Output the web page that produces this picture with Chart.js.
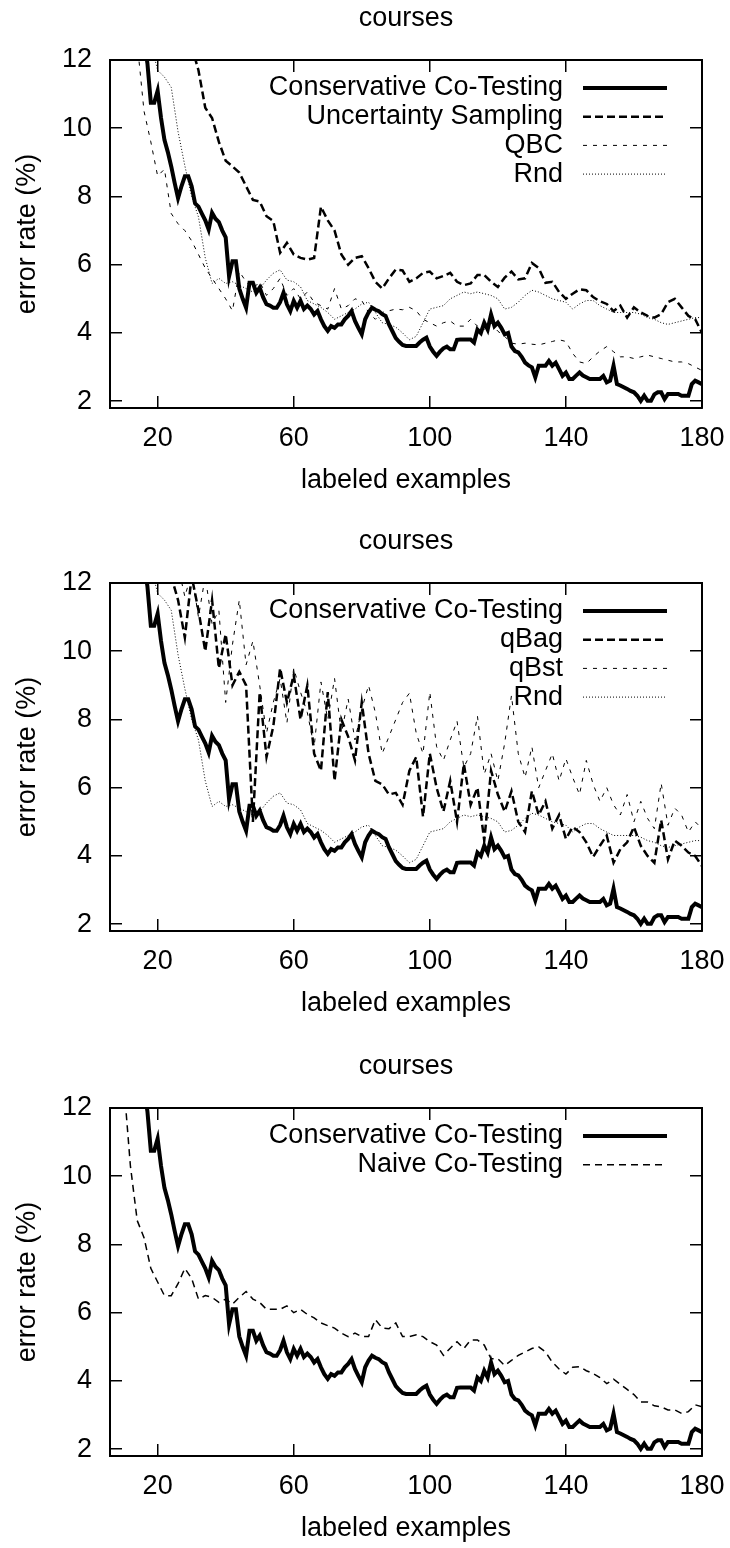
<!DOCTYPE html>
<html>
<head>
<meta charset="utf-8">
<script src="https://cdn.jsdelivr.net/npm/chart.js@4.4.0/dist/chart.umd.min.js"></script>
<style>
  body { margin: 0; background: #fff; }
  .panel { position: absolute; left: 0; width: 730px; height: 500px; }
</style>
</head>
<body>
<div class="panel" style="top:0px"><canvas id="chart1"></canvas></div>
<div class="panel" style="top:523px"><canvas id="chart2"></canvas></div>
<div class="panel" style="top:1048px"><canvas id="chart3"></canvas></div>
<script>
// x positions (number of labeled examples)
const EXAMPLES_FINE = [
  14, 15, 16, 17, 18, 19, 20, 21, 22, 23, 24, 25, 26, 27, 28, 29, 30, 31, 32, 33,
  34, 35, 36, 37, 38, 39, 40, 41, 42, 43, 44, 45, 46, 47, 48, 49, 50, 51, 52, 53,
  54, 55, 56, 57, 58, 59, 60, 61, 62, 63, 64, 65, 66, 67, 68, 69, 70, 71, 72, 73,
  74, 75, 76, 77, 78, 79, 80, 81, 82, 83, 84, 85, 86, 87, 88, 89, 90, 91, 92, 93,
  94, 95, 96, 97, 98, 99, 100, 101, 102, 103, 104, 105, 106, 107, 108, 109, 110, 111, 112, 113,
  114, 115, 116, 117, 118, 119, 120, 121, 122, 123, 124, 125, 126, 127, 128, 129, 130, 131, 132, 133,
  134, 135, 136, 137, 138, 139, 140, 141, 142, 143, 144, 145, 146, 147, 148, 149, 150, 151, 152, 153,
  154, 155, 156, 157, 158, 159, 160, 161, 162, 163, 164, 165, 166, 167, 168, 169, 170, 171, 172, 173,
  174, 175, 176, 177, 178, 179, 180
];
const EXAMPLES = [
  8, 10, 12, 14, 16, 18, 20, 22, 24, 26, 28, 30, 32, 34, 36, 38, 40, 42, 44, 46,
  48, 50, 52, 54, 56, 58, 60, 62, 64, 66, 68, 70, 72, 74, 76, 78, 80, 82, 84, 86,
  88, 90, 92, 94, 96, 98, 100, 102, 104, 106, 108, 110, 112, 114, 116, 118, 120, 122, 124, 126,
  128, 130, 132, 134, 136, 138, 140, 142, 144, 146, 148, 150, 152, 154, 156, 158, 160, 162, 164, 166,
  168, 170, 172, 174, 176, 178, 180
];
const X_TICKS = [20, 60, 100, 140, 180];
const Y_TICKS = [2, 4, 6, 8, 10, 12];

// error rate (%), on EXAMPLES_FINE
const conservative = [
  14.0, 13.3, 12.6, 11.9, 10.75, 10.75, 11.1, 10.3, 9.66, 9.3, 8.88, 8.4, 7.95, 8.3, 8.59, 8.59, 8.3, 7.8, 7.7, 7.5,
  7.3, 7.03, 7.52, 7.35, 7.25, 7.0, 6.8, 5.66, 6.1, 6.1, 5.3, 5.0, 4.74, 5.47, 5.47, 5.18, 5.33, 5.05, 4.84, 4.8,
  4.74, 4.74, 4.9, 5.18, 4.84, 4.64, 4.94, 4.74, 4.94, 4.7, 4.8, 4.7, 4.54, 4.64, 4.4, 4.2, 4.06, 4.2, 4.15, 4.25,
  4.25, 4.4, 4.5, 4.64, 4.35, 4.15, 3.96, 4.4, 4.6, 4.74, 4.68, 4.64, 4.55, 4.5, 4.25, 4.05, 3.85, 3.74, 3.65, 3.62,
  3.62, 3.62, 3.62, 3.72, 3.8, 3.86, 3.6, 3.45, 3.33, 3.45, 3.55, 3.6, 3.52, 3.52, 3.8, 3.81, 3.81, 3.81, 3.81, 3.72,
  4.1, 4.0, 4.3, 4.1, 4.54, 4.2, 4.3, 4.15, 3.96, 4.0, 3.6, 3.47, 3.43, 3.3, 3.13, 3.05, 2.99, 2.7, 3.04, 3.04,
  3.04, 3.18, 3.04, 3.13, 2.94, 2.74, 2.84, 2.65, 2.65, 2.75, 2.84, 2.75, 2.7, 2.65, 2.65, 2.65, 2.65, 2.74, 2.55, 2.6,
  3.04, 2.5, 2.46, 2.41, 2.36, 2.3, 2.26, 2.16, 2.01, 2.16, 2.01, 2.01, 2.2, 2.26, 2.26, 2.06, 2.21, 2.21, 2.21, 2.21,
  2.16, 2.16, 2.16, 2.5, 2.6, 2.55, 2.5
];

// error rate (%), on EXAMPLES
const uncertainty = [
  16, 15.5, 15, 14.6, 14.2, 13.8, 13.5, 13.2, 13, 12.8, 12.6, 12.4, 11.7, 10.6, 10.3, 9.6, 9.05, 8.88, 8.7, 8.3,
  7.9, 7.85, 7.42, 7.28, 6.35, 6.64, 6.3, 6.2, 6.15, 6.2, 7.7, 7.3, 7.0, 6.3, 6.0, 6.2, 6.25, 5.9, 5.5, 5.3,
  5.6, 5.86, 5.83, 5.5, 5.6, 5.76, 5.8, 5.6, 5.67, 5.76, 5.5, 5.4, 5.45, 5.7, 5.7, 5.5, 5.35, 5.62, 5.8, 5.57,
  5.6, 6.05, 5.9, 5.47, 5.5, 5.2, 5.0, 5.15, 5.28, 5.25, 5.05, 4.93, 4.85, 4.64, 4.8, 4.45, 4.75, 4.6, 4.5, 4.45,
  4.55, 4.9, 5.0, 4.75, 4.5, 4.4, 4.0
];
const qbc = [
  16, 15, 14, 12.5, 10.5, 9.6, 8.6, 8.8, 7.5, 7.2, 7.0, 6.7, 6.3, 5.9, 5.6, 5.3, 5.0, 4.65, 5.8, 5.5,
  5.3, 5.5, 5.1, 5.3, 5.6, 5.1, 5.3, 5.0, 5.2, 4.9, 4.8, 4.7, 5.3, 4.7, 4.8, 5.0, 4.95, 4.6, 4.4, 4.6,
  4.65, 4.7, 4.68, 4.75, 4.65, 4.4, 4.3, 4.2, 4.3, 4.35, 4.2, 4.2, 4.4, 4.2, 4.1, 4.3, 4.05, 3.9, 3.7, 3.67,
  3.7, 3.67, 3.65, 3.7, 3.75, 3.8, 3.75, 3.4, 3.15, 3.1, 3.3, 3.47, 3.6, 3.45, 3.3, 3.3, 3.25, 3.3, 3.35, 3.3,
  3.25, 3.2, 3.15, 3.15, 3.1, 3.0, 2.9
];
const rnd = [
  16, 15.5, 15, 14, 13.2, 12.5, 11.7, 11.5, 11.2, 9.9, 8.9, 8.0, 7.4, 6.2, 5.45, 5.6, 5.45, 5.5, 5.4, 5.3,
  5.2, 5.3, 5.55, 5.75, 5.85, 5.55, 5.5, 5.35, 4.95, 4.85, 4.75, 4.6, 4.4, 4.5, 4.6, 4.7, 4.85, 4.9, 4.6, 4.3,
  4.25, 4.17, 4.0, 3.8, 3.9, 4.3, 4.7, 4.75, 4.8, 5.0, 5.1, 5.2, 5.15, 5.2, 5.15, 5.1, 5.0, 4.7, 4.75, 4.9,
  5.1, 5.25, 5.2, 5.1, 5.0, 4.95, 4.9, 4.7, 4.85, 4.95, 4.95, 4.8, 4.7, 4.6, 4.6, 4.6, 4.6, 4.55, 4.45, 4.4,
  4.3, 4.25, 4.3, 4.35, 4.4, 4.45, 4.45
];
const qbag = [
  16, 15, 14, 13.5, 13, 12.8, 12.5, 12.3, 12.2, 11.5, 10.4, 12.2, 11.2, 10.0, 11.5, 9.5, 10.5, 9.0, 9.4, 9.0,
  5.0, 8.8, 6.9, 7.8, 9.5, 8.5, 9.3, 8.0, 9.0, 7.0, 6.5, 8.8, 6.2, 8.0, 7.5, 6.8, 8.5, 7.0, 6.2, 6.1,
  5.8, 5.85, 5.5, 6.5, 6.9, 5.15, 7.0, 6.0, 5.3, 6.2, 5.0, 6.7, 5.5, 6.0, 4.45, 6.5, 5.8, 5.3, 5.9, 5.0,
  4.7, 5.9, 5.2, 5.6, 4.8, 5.2, 4.5, 4.85, 4.7, 4.4, 3.97, 4.3, 4.6, 3.8, 4.2, 4.4, 4.85, 4.3, 4.0, 3.8,
  5.05, 3.9, 4.45, 4.3, 4.1, 4.0, 3.7
];
const qbst = [
  16, 15, 14, 13.5, 13, 12.7, 12.4, 12.2, 12.1, 12.5, 11.6, 12.3, 11.0, 12.2, 10.8, 11.2, 8.5, 10.2, 11.5, 9.6,
  10.3, 9.0, 7.6, 8.5, 9.2, 7.9, 9.5, 8.8, 8.2, 7.2, 9.1, 8.0, 9.2, 7.6, 8.6, 7.4, 8.3, 9.0, 8.2, 7.0,
  7.5, 8.0, 8.5, 8.77, 7.6, 7.0, 8.8, 7.2, 6.8, 7.4, 7.95, 6.6, 7.0, 8.1, 6.4, 7.0, 6.2, 7.3, 8.7, 7.0,
  6.3, 7.2, 6.0, 6.5, 7.0, 6.2, 6.85, 6.3, 5.8, 6.8, 6.1, 5.6, 6.0, 5.5, 5.2, 5.8, 5.0, 5.6, 5.1, 4.8,
  6.13, 4.9, 5.4, 5.2, 4.7, 5.0, 4.8
];
const naive = [
  15, 12.8, 10.3, 8.7, 8.2, 7.3, 6.9, 6.5, 6.5, 6.85, 7.3, 7.0, 6.4, 6.5, 6.45, 6.3, 6.4, 6.25, 6.45, 6.62,
  6.4, 6.3, 6.1, 6.1, 6.1, 6.2, 6.0, 6.1, 5.95, 5.85, 5.7, 5.62, 5.55, 5.4, 5.3, 5.4, 5.3, 5.3, 5.8, 5.55,
  5.53, 5.7, 5.3, 5.3, 5.35, 5.3, 5.15, 5.05, 4.75, 4.96, 5.15, 4.95, 5.2, 5.2, 5.05, 4.65, 4.65, 4.45, 4.6, 4.75,
  4.85, 4.95, 5.0, 4.85, 4.55, 4.35, 4.2, 4.4, 4.42, 4.3, 4.22, 4.1, 3.92, 4.05, 3.9, 3.75, 3.6, 3.38, 3.38, 3.27,
  3.24, 3.15, 3.15, 3.05, 3.1, 3.3, 3.24
];

const FONT = { family: "'Liberation Sans', Arial, Helvetica, sans-serif", size: 27, weight: 'normal' };

function points (xs, ys) {
    return ys.map((y, i) => ({ x: xs[i], y: y }));
}

// line styles
const SOLID = { borderWidth: 4, borderDash: [] };
const DASHED = { borderWidth: 2.5, borderDash: [8, 4] };
const FINE_DASHED = { borderWidth: 1, borderDash: [4, 6] };
const DOTTED = { borderWidth: 1, borderDash: [1, 2] };
const THIN_DASHED = { borderWidth: 1.5, borderDash: [7, 5] };

function series (label, xs, ys, style) {
    return {
        label: label,
        data: points(xs, ys),
        borderColor: '#000',
        borderWidth: style.borderWidth,
        borderDash: style.borderDash,
        pointRadius: 0,
        tension: 0,
        fill: false,
    };
}

// legend inside the plot: right-aligned text, line sample on the right
const sideLegend = {
    id: 'sideLegend',
    afterDatasetsDraw (chart) {
        const { ctx, chartArea } = chart;
        ctx.save();
        ctx.font = FONT.size + 'px ' + FONT.family;
        ctx.textAlign = 'right';
        ctx.textBaseline = 'middle';
        chart.data.datasets.forEach((ds, i) => {
            const y = chartArea.top + 28 + i * 28.7;
            ctx.fillStyle = '#000';
            ctx.fillText(ds.label, chartArea.right - 139, y);
            ctx.beginPath();
            ctx.setLineDash(ds.borderDash);
            ctx.lineWidth = ds.borderWidth;
            ctx.strokeStyle = ds.borderColor;
            ctx.moveTo(chartArea.right - 119, y);
            ctx.lineTo(chartArea.right - 35, y);
            ctx.stroke();
        });
        ctx.restore();
    }
};

function frameAxis (position, min, max, tickValues, size) {
    const horizontal = position === 'top' || position === 'bottom';
    return {
        type: 'linear',
        position: position,
        min: min,
        max: max,
        afterBuildTicks: (s) => { s.ticks = tickValues.map(v => ({ value: v })); },
        afterFit: (s) => {
            if (horizontal) s.height = size; else s.width = size;
            s.paddingLeft = 0; s.paddingRight = 0; s.paddingTop = 0; s.paddingBottom = 0;
        },
        grid: { drawOnChartArea: false, color: '#000', lineWidth: 1.5, tickLength: -12 },
        border: { color: '#000', width: 2 },
        ticks: { display: false },
    };
}

function courses_chart (id, datasets) {
    const x = frameAxis('bottom', 6, 180, X_TICKS, 92);
    x.ticks = { display: true, color: '#000', font: FONT, padding: 26, maxRotation: 0, autoSkip: false };
    x.title = { display: true, text: 'labeled examples', color: '#000', font: FONT, padding: { top: 0, bottom: 3 } };

    const y = frameAxis('left', 1.8, 12, Y_TICKS, 110);
    y.ticks = { display: true, color: '#000', font: FONT, padding: 30, autoSkip: false };
    y.title = { display: true, text: 'error rate (%)', color: '#000', font: FONT, padding: { top: 11, bottom: 0 } };

    return new Chart(document.getElementById(id), {
        type: 'line',
        data: { datasets: datasets },
        options: {
            responsive: true,
            maintainAspectRatio: false,
            animation: false,
            layout: { padding: 0 },
            plugins: {
                legend: { display: false },
                tooltip: { enabled: false },
                title: {
                    display: true,
                    text: 'courses',
                    fullSize: false,
                    color: '#000',
                    font: FONT,
                    padding: { top: 2, bottom: 25.6 },
                },
            },
            scales: {
                x: x,
                x2: frameAxis('top', 6, 180, X_TICKS, 0),
                y: y,
                y2: frameAxis('right', 1.8, 12, Y_TICKS, 28),
            },
        },
        plugins: [sideLegend],
    });
}

courses_chart('chart1', [
    series('Conservative Co-Testing', EXAMPLES_FINE, conservative, SOLID),
    series('Uncertainty Sampling', EXAMPLES, uncertainty, DASHED),
    series('QBC', EXAMPLES, qbc, FINE_DASHED),
    series('Rnd', EXAMPLES, rnd, DOTTED),
]);

courses_chart('chart2', [
    series('Conservative Co-Testing', EXAMPLES_FINE, conservative, SOLID),
    series('qBag', EXAMPLES, qbag, DASHED),
    series('qBst', EXAMPLES, qbst, FINE_DASHED),
    series('Rnd', EXAMPLES, rnd, DOTTED),
]);

courses_chart('chart3', [
    series('Conservative Co-Testing', EXAMPLES_FINE, conservative, SOLID),
    series('Naive Co-Testing', EXAMPLES, naive, THIN_DASHED),
]);
</script>
</body>
</html>
